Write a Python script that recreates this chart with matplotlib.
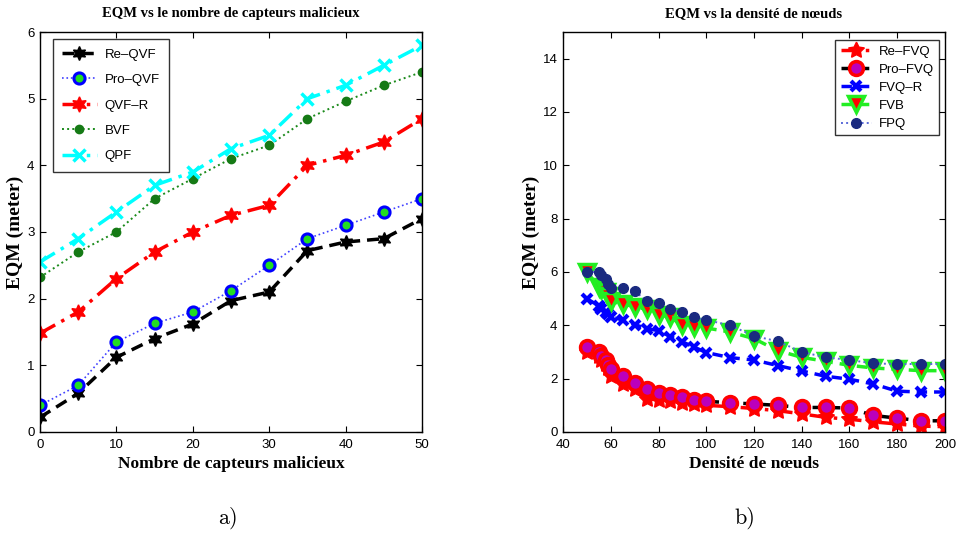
import matplotlib
matplotlib.use("Agg")
import matplotlib.pyplot as plt

# ---------------- data: panel a ----------------
n_malicious = [0, 5, 10, 15, 20, 25, 30, 35, 40, 45, 50]
re_qvf  = [0.22, 0.58, 1.12, 1.40, 1.62, 1.97, 2.10, 2.72, 2.85, 2.90, 3.20]
pro_qvf = [0.40, 0.70, 1.35, 1.63, 1.80, 2.12, 2.50, 2.90, 3.10, 3.30, 3.50]
qvf_r   = [1.48, 1.80, 2.30, 2.70, 3.00, 3.25, 3.40, 4.00, 4.15, 4.35, 4.70]
bvf     = [2.32, 2.70, 3.00, 3.50, 3.80, 4.10, 4.30, 4.70, 4.96, 5.20, 5.40]
qpf     = [2.55, 2.90, 3.30, 3.70, 3.90, 4.25, 4.45, 5.00, 5.20, 5.50, 5.80]

# ---------------- data: panel b ----------------
density = [50, 55, 56, 58, 59, 60, 65, 70, 75, 80, 85, 90, 95, 100,
           110, 120, 130, 140, 150, 160, 170, 180, 190, 200]
re_fvq  = [3.00, 2.85, 2.70, 2.55, 2.40, 2.10, 1.80, 1.60, 1.25, 1.20, 1.15, 1.10, 1.05, 1.00,
           0.95, 0.88, 0.80, 0.68, 0.55, 0.48, 0.38, 0.30, 0.22, 0.20]
pro_fvq = [3.20, 3.00, 2.85, 2.70, 2.50, 2.35, 2.10, 1.82, 1.62, 1.45, 1.40, 1.30, 1.20, 1.15,
           1.10, 1.05, 1.00, 0.92, 0.92, 0.90, 0.62, 0.52, 0.42, 0.42]
fvq_r   = [5.00, 4.73, 4.63, 4.50, 4.42, 4.32, 4.20, 4.03, 3.88, 3.80, 3.58, 3.38, 3.18, 2.98,
           2.79, 2.70, 2.49, 2.29, 2.09, 1.98, 1.80, 1.53, 1.50, 1.50]
fvb     = [6.00, 5.45, 5.35, 5.25, 5.10, 4.90, 4.80, 4.70, 4.60, 4.40, 4.30, 4.00, 3.95, 3.90,
           3.75, 3.50, 3.05, 2.80, 2.65, 2.50, 2.40, 2.35, 2.30, 2.30]
fpq     = [6.00, 6.00, 5.88, 5.72, 5.55, 5.41, 5.41, 5.30, 4.90, 4.82, 4.60, 4.50, 4.30, 4.20,
           4.00, 3.60, 3.40, 3.00, 2.80, 2.70, 2.57, 2.55, 2.55, 2.55]

titles = ["EQM vs le nombre de capteurs malicieux", "EQM vs la densité de nœuds"]
xlabels = ["Nombre de capteurs malicieux", "Densité de nœuds"]
ylabel = "EQM (meter)"
panel_labels = ["a)", "b)"]

serif = ["Liberation Serif", "DejaVu Serif"]
sans = ["Liberation Sans", "DejaVu Sans"]
plt.rcParams["font.family"] = sans

fig = plt.figure(figsize=(9.57, 5.35), dpi=100)
W, H = 957, 535
axA = fig.add_axes([40 / W, (H - 432) / H, 382 / W, 400 / H])
axB = fig.add_axes([563 / W, (H - 432) / H, 382 / W, 400 / H])

star6 = (6, 1, 0)
star5 = (5, 1, 0)

# panel a
axA.plot(n_malicious, re_qvf, ls=(0, (3.5, 2)), color="black", lw=2.5, marker=star6, ms=10,
         mfc="black", mec="black", label="Re\u2013QVF")
axA.plot(n_malicious, pro_qvf, ls=":", color="#4040ff", lw=1.2, marker="o", ms=8,
         mfc="#22dd22", mec="blue", mew=2.2, label="Pro\u2013QVF")
axA.plot(n_malicious, qvf_r, ls=(0, (5, 2, 1, 2)), color="red", lw=2.5, marker=star6, ms=11,
         mfc="red", mec="red", label="QVF\u2013R")
axA.plot(n_malicious, bvf, ls=":", color="#1a8a1a", lw=1.4, marker="o", ms=6,
         mfc="#157a15", mec="#157a15", label="BVF")
axA.plot(n_malicious, qpf, ls=(0, (5, 2, 1, 2)), color="cyan", lw=2.5, marker="x", ms=9,
         mew=2.5, mec="cyan", label="QPF")
axA.set_xlim(0, 50)
axA.set_ylim(0, 6)
axA.set_xticks([0, 10, 20, 30, 40, 50])
axA.set_yticks([0, 1, 2, 3, 4, 5, 6])

# panel b
axB.plot(density, re_fvq, ls=(0, (5, 2, 1, 2)), color="red", lw=2.5, marker=star5, ms=12,
         mfc="red", mec="red", label="Re\u2013FVQ")
axB.plot(density, pro_fvq, ls=(0, (3, 2)), color="black", lw=2.5, marker="o", ms=10,
         mfc="#bb00bb", mec="red", mew=2.5, label="Pro\u2013FVQ")
axB.plot(density, fvq_r, ls=(0, (3, 2)), color="blue", lw=2.5, marker="x", ms=7,
         mew=3, mec="blue", label="FVQ\u2013R")
axB.plot(density, fvb, ls=(0, (3, 2)), color="#22ee22", lw=2.5, marker="v", ms=11,
         mfc="red", mec="#22ee22", mew=2.5, label="FVB")
axB.plot(density, fpq, ls=":", color="#5a6ad8", lw=1.4, marker="o", ms=7,
         mfc="#1a2a80", mec="#1a2a80", label="FPQ")
axB.set_xlim(40, 200)
axB.set_ylim(0, 15)
axB.set_xticks(range(40, 201, 20))
axB.set_yticks(range(0, 15, 2))

for ax, t, xl, pl, cx in zip([axA, axB], titles, xlabels, panel_labels, [228, 745]):
    ax.tick_params(direction="in", top=True, right=True, labelsize=9.5, length=4, width=0.8)
    ax.tick_params(axis="x", pad=5)
    ax.tick_params(axis="y", pad=4)
    for s in ax.spines.values():
        s.set_linewidth(1.0)
    ax.set_title(t, fontfamily=serif, fontweight="bold", fontsize=10.5, pad=11)
    ax.set_xlabel(xl, fontfamily=serif, fontweight="bold", fontsize=12.5, labelpad=4)
    ax.set_ylabel(ylabel, fontfamily=serif, fontweight="bold", fontsize=14, labelpad=2)
    fig.text(cx / W, 1 - 518 / H, pl, fontfamily=["cmr10", "DejaVu Serif"], fontsize=16,
             ha="center", va="center")

legA = axA.legend(loc="upper left", fontsize=9.5, frameon=True, fancybox=False,
                  edgecolor="black", handlelength=2.6, handletextpad=0.6, borderpad=0.7,
                  labelspacing=1.0, borderaxespad=0.0, bbox_to_anchor=(0.034, 0.982))
legA.get_frame().set_linewidth(1.0)
legB = axB.legend(loc="upper right", fontsize=9.5, frameon=True, fancybox=False,
                  edgecolor="black", handlelength=2.4, handletextpad=0.5, borderpad=0.4,
                  labelspacing=0.45, borderaxespad=0.0, bbox_to_anchor=(0.985, 0.98))
legB.get_frame().set_linewidth(1.0)

fig.savefig("out.png", dpi=100)
